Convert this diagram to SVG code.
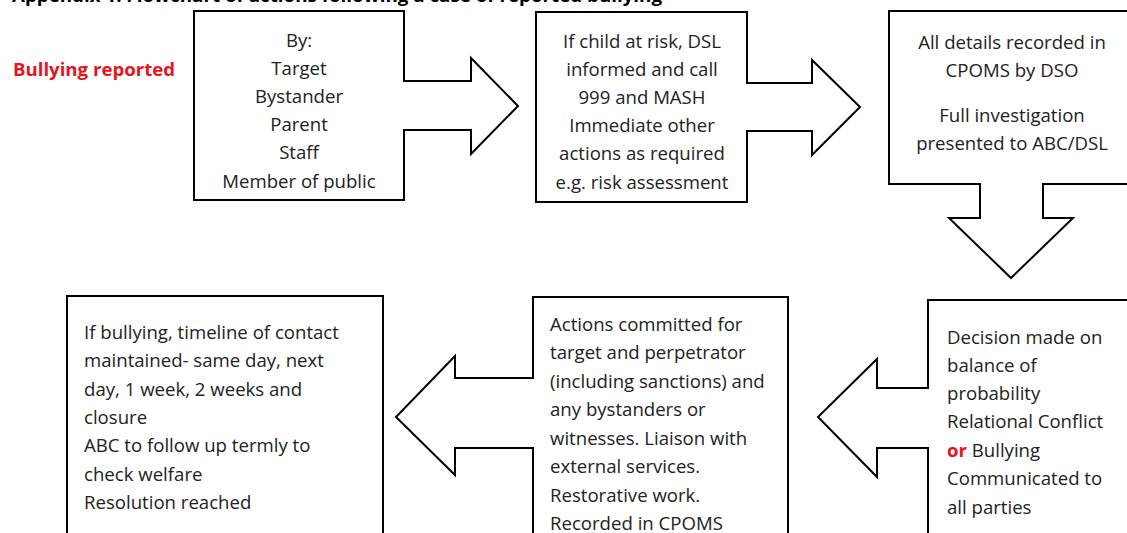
<svg xmlns="http://www.w3.org/2000/svg" width="1127" height="533" viewBox="0 0 1127 533">
<style>
.shape{fill:#fff;stroke:#000;stroke-width:2;stroke-linejoin:miter}
text{font-family:"Open Sans","Noto Sans",sans-serif;font-size:18.6px;fill:#222}
.c{text-anchor:middle}
.title{font-weight:bold;font-size:17px;fill:#000}
.red{fill:#e8141c;font-weight:bold}
</style>
<rect width="1127" height="533" fill="#fff"/>
<text class="title" x="12" y="2" textLength="650" lengthAdjust="spacingAndGlyphs">Appendix 1: Flowchart of actions following a case of reported bullying</text>
<g id="start">
<text class="red" x="13" y="76" textLength="162" lengthAdjust="spacingAndGlyphs">Bullying reported</text>
</g>
<g id="connectors">
<path class="shape" d="M194,11 H404 V81 H471 V58 L518,106 L471,154 V130 H404 V200 H194 Z"/>
<path class="shape" d="M536,12 H747 V83 H812 V60 L860,107 L812,155 V131 H747 V202 H536 Z"/>
<path class="shape" d="M889,11 H1140 V184 H1043 V218 H1073 L1011,278 L949,218 H980 V184 H889 Z"/>
<path class="shape" d="M928,300 H1140 V545 H928 V448 H877 V477 L818,417 L877,359 V388 H928 Z"/>
<path class="shape" d="M533,297 H788 V545 H533 V448 H455 V475 L396,417 L455,356 V378 H533 Z"/>
</g>
<g id="reporters">
<text class="c" x="299" y="47">By:</text>
<text class="c" x="299" y="75">Target</text>
<text class="c" x="299" y="103">Bystander</text>
<text class="c" x="299" y="131">Parent</text>
<text class="c" x="299" y="159">Staff</text>
<text class="c" x="299" y="188">Member of public</text>
</g>
<g id="risk">
<text class="c" x="642" y="48">If child at risk, DSL</text>
<text class="c" x="642" y="76">informed and call</text>
<text class="c" x="642" y="104">999 and MASH</text>
<text class="c" x="642" y="132">Immediate other</text>
<text class="c" x="642" y="160">actions as required</text>
<text class="c" x="642" y="189">e.g. risk assessment</text>
</g>
<g id="recorded">
<text class="c" x="1012" y="49">All details recorded in</text>
<text class="c" x="1012" y="77">CPOMS by DSO</text>
<text class="c" x="1012" y="122">Full investigation</text>
<text class="c" x="1012" y="150">presented to ABC/DSL</text>
</g>
<g id="decision">
<text x="947" y="344">Decision made on</text>
<text x="947" y="372">balance of</text>
<text x="947" y="400">probability</text>
<text x="947" y="428">Relational Conflict</text>
<text x="947" y="457"><tspan class="red">or</tspan> Bullying</text>
<text x="947" y="485">Communicated to</text>
<text x="947" y="514">all parties</text>
</g>
<g id="actions">
<text x="550" y="331">Actions committed for</text>
<text x="550" y="359">target and perpetrator</text>
<text x="550" y="388">(including sanctions) and</text>
<text x="550" y="416">any bystanders or</text>
<text x="550" y="445">witnesses. Liaison with</text>
<text x="550" y="473">external services.</text>
<text x="550" y="502">Restorative work.</text>
<text x="550" y="530">Recorded in CPOMS</text>
</g>
<g id="followup">
<rect class="shape" x="67" y="296" width="316" height="250"/>
<text x="84" y="339">If bullying, timeline of contact</text>
<text x="84" y="367">maintained- same day, next</text>
<text x="84" y="396">day, 1 week, 2 weeks and</text>
<text x="84" y="424">closure</text>
<text x="84" y="452">ABC to follow up termly to</text>
<text x="84" y="481">check welfare</text>
<text x="84" y="509">Resolution reached</text>
</g>
</svg>
